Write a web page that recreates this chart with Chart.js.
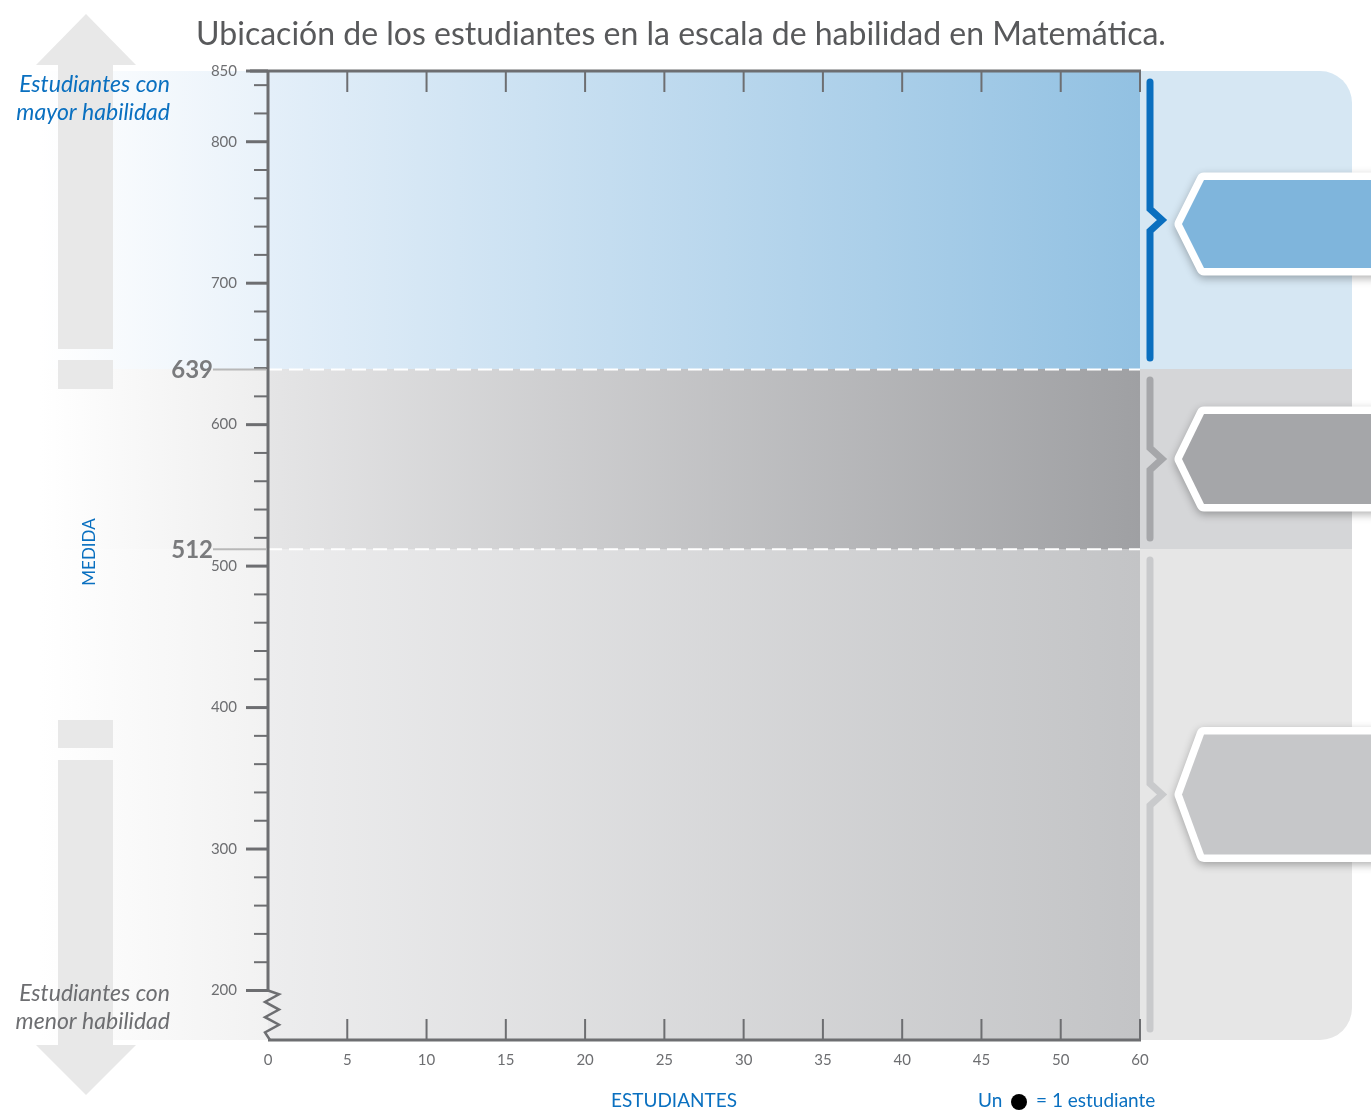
<!DOCTYPE html>
<html>
<head>
<meta charset="utf-8">
<script src="https://cdn.jsdelivr.net/npm/chart.js@4/dist/chart.umd.min.js"></script>
<style>
  body { margin: 0; background: #fff; }
  canvas { display: block; }
</style>
</head>
<body>
<canvas id="escala" width="1371" height="1111"></canvas>
<script>
// data
const xLabels = ['0', '5', '10', '15', '20', '25', '30', '35', '40', '45', '50', '60'];
const yMajor = [200, 300, 400, 500, 600, 700, 800, 850];
const yMin = 165;
const yMax = 850;
const yMinorStep = 20;
const cutScores = [512, 639];
const students = []; // no dots placed in the reference

const axisColor = '#6d6e71';
const blue = '#0a70c0';
const font = 'Lato, "Open Sans", sans-serif';

// band styles, bottom band first
const bandStyles = [
    { left: '#ededee', right: '#c3c4c6', panel: '#e6e6e6', side: '#f2f2f2', bracket: '#c9cacc', tag: '#c6c7c9', tagH: 60 },
    { left: '#e5e5e6', right: '#9fa0a3', panel: '#d5d6d8', side: '#eeeeee', bracket: '#a6a7aa', tag: '#a5a6a9', tagH: 45 },
    { left: '#e4eff9', right: '#92c1e2', panel: '#d6e7f3', side: '#e9f2fa', bracket: '#0a6fbf', tag: '#7fb5dc', tagH: 44 }
];

const yTickValues = [];
for (let v = yMajor[0]; v < yMax; v += yMinorStep) yTickValues.push(v);
yTickValues.push(yMax);

function line(ctx, x1, y1, x2, y2) {
    ctx.beginPath();
    ctx.moveTo(x1, y1);
    ctx.lineTo(x2, y2);
    ctx.stroke();
}

const backdrop = {
    id: 'backdrop',
    beforeDraw(chart) {
        const ctx = chart.ctx;
        const area = chart.chartArea;
        const ys = chart.scales.y;
        const edges = [area.bottom, ys.getPixelForValue(cutScores[0]), ys.getPixelForValue(cutScores[1]), area.top].map(Math.round);
        const panelRight = 1352;

        ctx.save();
        // outer panel with rounded right side
        ctx.beginPath();
        ctx.roundRect(0, area.top, panelRight, area.bottom - area.top, [0, 32, 32, 0]);
        ctx.clip();
        bandStyles.forEach((s, i) => {
            const y0 = edges[i + 1], y1 = edges[i];
            ctx.fillStyle = s.panel;
            ctx.fillRect(0, y0, panelRight, y1 - y0);
            const g = ctx.createLinearGradient(0, 0, area.left, 0);
            g.addColorStop(0, '#ffffff');
            g.addColorStop(0.15, '#ffffff');
            g.addColorStop(1, s.side);
            ctx.fillStyle = g;
            ctx.fillRect(0, y0, area.left, y1 - y0);
        });
        ctx.restore();

        // big vertical arrow
        ctx.save();
        ctx.fillStyle = '#e8e8e8';
        ctx.beginPath();
        ctx.moveTo(86, 14); ctx.lineTo(136, 65); ctx.lineTo(36, 65); ctx.closePath();
        ctx.fill();
        ctx.beginPath();
        ctx.moveTo(36, 1045); ctx.lineTo(136, 1045); ctx.lineTo(86, 1095); ctx.closePath();
        ctx.fill();
        [[65, 349], [360, 389], [720, 748], [760, 1045]].forEach(seg => {
            ctx.fillRect(58, seg[0], 55, seg[1] - seg[0]);
        });
        ctx.restore();

        // plot area gradients
        ctx.save();
        bandStyles.forEach((s, i) => {
            const y0 = edges[i + 1], y1 = edges[i];
            const g = ctx.createLinearGradient(area.left, 0, area.right, 0);
            g.addColorStop(0, s.left);
            g.addColorStop(1, s.right);
            ctx.fillStyle = g;
            ctx.fillRect(area.left, y0, area.right - area.left, y1 - y0);
        });

        // cut score lines
        ctx.strokeStyle = '#ffffff';
        ctx.lineWidth = 2;
        ctx.setLineDash([14, 7]);
        cutScores.forEach(c => {
            const y = ys.getPixelForValue(c);
            line(ctx, area.left, y, area.right, y);
        });
        ctx.setLineDash([]);
        ctx.restore();

        // brackets and tags on the right
        ctx.save();
        bandStyles.forEach((s, i) => {
            const y0 = edges[i + 1], y1 = edges[i];
            const mid = (y0 + y1) / 2;
            const bx = area.right + 10;
            ctx.strokeStyle = s.bracket;
            ctx.lineWidth = 7;
            ctx.lineCap = 'round';
            ctx.lineJoin = 'miter';
            ctx.beginPath();
            ctx.moveTo(bx, y0 + 11);
            ctx.lineTo(bx, mid - 11);
            ctx.lineTo(bx + 12, mid);
            ctx.lineTo(bx, mid + 11);
            ctx.lineTo(bx, y1 - 11);
            ctx.stroke();

            const h = s.tagH;
            const tx = 1182;
            const c = i === 2 ? mid + 4 : mid;
            ctx.beginPath();
            ctx.moveTo(tx, c);
            ctx.lineTo(tx + 22, c - h);
            ctx.lineTo(1400, c - h);
            ctx.lineTo(1400, c + h);
            ctx.lineTo(tx + 22, c + h);
            ctx.closePath();
            ctx.save();
            ctx.shadowColor = 'rgba(0,0,0,0.3)';
            ctx.shadowBlur = 8;
            ctx.shadowOffsetY = 3;
            ctx.strokeStyle = '#ffffff';
            ctx.lineWidth = 15;
            ctx.lineJoin = 'round';
            ctx.stroke();
            ctx.restore();
            ctx.fillStyle = s.tag;
            ctx.fill();
        });
        ctx.restore();
    },
    afterDraw(chart) {
        const ctx = chart.ctx;
        const area = chart.chartArea;
        const ys = chart.scales.y;
        const xs = chart.scales.x;

        ctx.save();
        ctx.strokeStyle = axisColor;
        ctx.lineCap = 'butt';

        // y ticks
        yTickValues.forEach(v => {
            const y = ys.getPixelForValue(v);
            const major = yMajor.includes(v);
            ctx.lineWidth = major ? 3 : 2;
            line(ctx, area.left - (major ? 22 : 14), y, area.left, y);
        });
        // cut score leaders
        ctx.strokeStyle = '#b8b8b8';
        ctx.lineWidth = 2;
        cutScores.forEach(c => {
            const y = ys.getPixelForValue(c);
            line(ctx, 213, y, area.left - 2, y);
        });

        ctx.strokeStyle = axisColor;
        ctx.lineWidth = 3;
        // top border and bottom axis
        line(ctx, area.left - 18, area.top, area.right + 1, area.top);
        line(ctx, area.left, area.bottom, area.right + 1, area.bottom);
        // left axis down to the break
        const y200 = ys.getPixelForValue(yMajor[0]);
        line(ctx, area.left, area.top, area.left, y200);
        // zigzag break
        ctx.lineWidth = 2.5;
        ctx.lineJoin = 'miter';
        ctx.beginPath();
        ctx.moveTo(area.left, y200);
        const teeth = 6;
        const step = (area.bottom - y200) / (teeth + 0.5);
        for (let k = 0; k < teeth; k++) {
            ctx.lineTo(area.left + (k % 2 === 0 ? 11 : -3), y200 + step * (k + 0.5));
        }
        ctx.lineTo(area.left + 2, area.bottom);
        ctx.stroke();

        // x ticks at top and bottom
        ctx.lineWidth = 2;
        xLabels.forEach((l, i) => {
            if (i === 0) return;
            const x = xs.getPixelForValue(i);
            line(ctx, x, area.top, x, area.top + 21);
            line(ctx, x, area.bottom, x, area.bottom - 21);
        });

        // texts
        ctx.textBaseline = 'middle';
        ctx.fillStyle = '#58595b';
        ctx.textAlign = 'center';
        ctx.font = '32px ' + font;
        ctx.fillText('Ubicación de los estudiantes en la escala de habilidad en Matemática.', 681, 35);

        ctx.textAlign = 'right';
        ctx.font = 'italic 23px ' + font;
        ctx.fillStyle = blue;
        ctx.fillText('Estudiantes con', 170, 85);
        ctx.fillText('mayor habilidad', 170, 113);
        ctx.fillStyle = axisColor;
        ctx.fillText('Estudiantes con', 170, 994);
        ctx.fillText('menor habilidad', 170, 1022);

        ctx.font = 'bold 24px ' + font;
        ctx.fillStyle = '#7a7b7d';
        cutScores.forEach(c => {
            ctx.fillText(String(c), 213, ys.getPixelForValue(c) + 1);
        });

        ctx.save();
        ctx.translate(90, 552);
        ctx.rotate(-Math.PI / 2);
        ctx.textAlign = 'center';
        ctx.font = '17px ' + font;
        ctx.fillStyle = blue;
        ctx.fillText('MEDIDA', 0, 0);
        ctx.restore();

        ctx.textAlign = 'center';
        ctx.font = '19px ' + font;
        ctx.fillStyle = blue;
        ctx.fillText('ESTUDIANTES', 674, 1101);
        ctx.textAlign = 'left';
        ctx.fillText('Un', 978, 1101);
        ctx.fillText('= 1 estudiante', 1036, 1101);
        ctx.fillStyle = '#000000';
        ctx.beginPath();
        ctx.arc(1019, 1102, 8, 0, Math.PI * 2);
        ctx.fill();
        ctx.restore();
    }
};

Chart.defaults.font.family = font;

new Chart(document.getElementById('escala'), {
    type: 'line',
    data: {
        labels: xLabels,
        datasets: [{
            label: 'Estudiantes',
            data: students,
            showLine: false,
            pointRadius: 8,
            pointBackgroundColor: '#000',
            pointBorderWidth: 0
        }]
    },
    options: {
        responsive: false,
        animation: false,
        devicePixelRatio: 1,
        layout: { padding: { left: 0, right: 231, top: 71, bottom: 31 } },
        plugins: { legend: { display: false }, tooltip: { enabled: false } },
        scales: {
            x: {
                type: 'category',
                offset: false,
                grid: { display: false },
                border: { display: false },
                ticks: { color: axisColor, font: { size: 15 }, padding: 3, maxRotation: 0, autoSkip: false },
                afterFit(scale) { scale.height = 40; }
            },
            y: {
                min: yMin,
                max: yMax,
                grid: { display: false },
                border: { display: false },
                afterBuildTicks(scale) {
                    scale.ticks = yTickValues.map(v => ({ value: v }));
                },
                ticks: {
                    autoSkip: false,
                    color: axisColor,
                    font: { size: 15 },
                    padding: 23,
                    callback: v => yMajor.includes(v) ? String(v) : ''
                },
                afterFit(scale) { scale.width = 268; }
            }
        }
    },
    plugins: [backdrop]
});
</script>
</body>
</html>
